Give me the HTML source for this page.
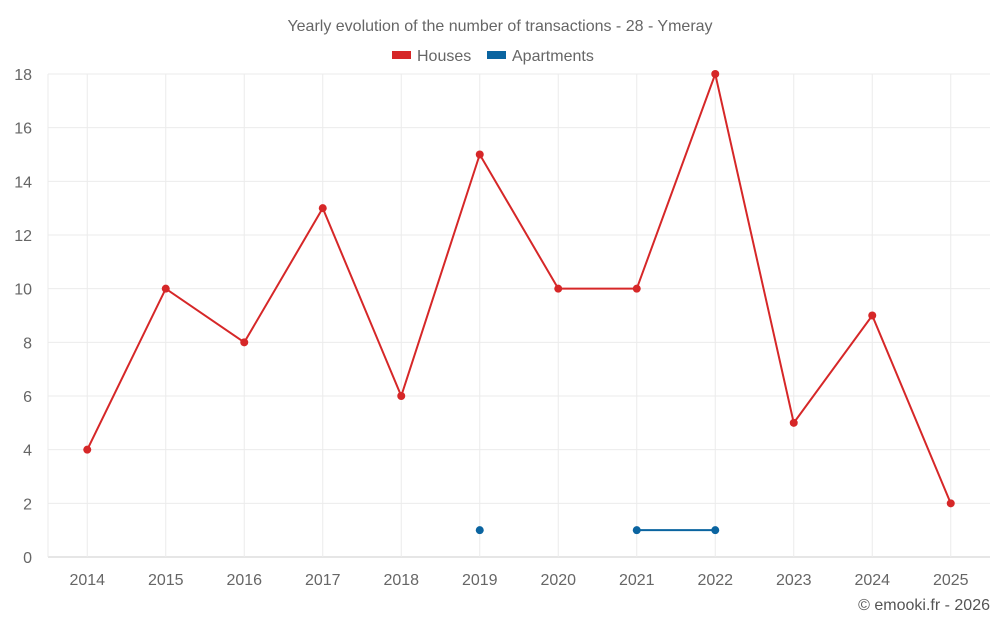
<!DOCTYPE html>
<html><head><meta charset="utf-8"><style>
body{margin:0;background:#fff;font-family:"Liberation Sans",sans-serif}
svg{display:block}
</style></head><body>
<svg id="chart" width="1000" height="625">
<text x="500" y="31" text-anchor="middle" font-size="16" fill="#666">Yearly evolution of the number of transactions - 28 - Ymeray</text>
<g>
<g><rect x="392" y="51" width="19" height="8" fill="#d62728"/><text x="417" y="61" font-size="16" fill="#666">Houses</text></g>
<g><rect x="487" y="51" width="19" height="8" fill="#0a64a0"/><text x="512" y="61" font-size="16" fill="#666">Apartments</text></g>
</g>
<g id="grid"></g><g id="axes"></g><g id="series"></g>
<text x="990" y="610" text-anchor="end" font-size="16" fill="#555">© emooki.fr - 2026</text>
</svg>
<script>
const years=[2014,2015,2016,2017,2018,2019,2020,2021,2022,2023,2024,2025];
const houses=[4,10,8,13,6,15,10,10,18,5,9,2];
const apartments=[null,null,null,null,null,1,null,1,1,null,null,null];
const yTicks=[0,2,4,6,8,10,12,14,16,18];
const NS="http://www.w3.org/2000/svg";
const L=48,R=990,T=74,B=557,yMax=18;
const band=(R-L)/years.length;
const xs=i=>L+band*(i+0.5);
const ys=v=>B-(v/yMax)*(B-T);
function mk(tag,a,p){const e=document.createElementNS(NS,tag);for(const k in a)e.setAttribute(k,a[k]);p.appendChild(e);return e;}
const grid=document.getElementById('grid'),axes=document.getElementById('axes'),ser=document.getElementById('series');
yTicks.forEach(t=>{
 const l=mk('line',{x1:L,x2:R,y1:ys(t),y2:ys(t),stroke:t===0?'#ccc':'#ebebeb'},grid);
 
 
 const tx=mk('text',{x:32,y:ys(t)+6,'text-anchor':'end','font-size':16,fill:'#666'},axes);tx.textContent=t;
 
 
});
mk('line',{x1:L,x2:L,y1:T,y2:B,stroke:'#ebebeb'},grid);
years.forEach((y,i)=>{
 const l=mk('line',{x1:xs(i),x2:xs(i),y1:T,y2:B,stroke:'#ebebeb'},grid);
 
 
 const tx=mk('text',{x:xs(i),y:585,'text-anchor':'middle','font-size':16,fill:'#666'},axes);tx.textContent=y;
 
 
});
function draw(vals,color,name){
 let segs=[],cur=[];
 vals.forEach((v,i)=>{if(v==null){if(cur.length)segs.push(cur);cur=[];}else cur.push([xs(i),ys(v)]);});
 if(cur.length)segs.push(cur);
 segs.forEach(s=>{if(s.length>1){const p=mk('polyline',{points:s.map(q=>q.join(',')).join(' '),fill:'none',stroke:color,'stroke-width':2},ser);
  
  }});
 vals.forEach((v,i)=>{if(v==null)return;const c=mk('circle',{cx:xs(i),cy:ys(v),r:4,fill:color},ser);
  
  });
}
draw(houses,'#d62728','houses');
draw(apartments,'#0a64a0','apartments');
</script>
</body></html>
